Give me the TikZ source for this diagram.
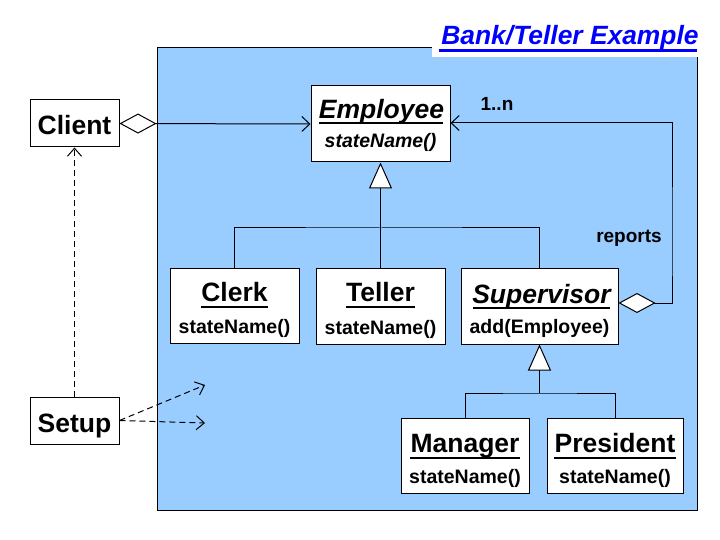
\documentclass[tikz,border=0pt]{standalone}
\usepackage{fontspec}
\setmainfont{Liberation Sans}
\usetikzlibrary{arrows.meta}
\definecolor{bluebg}{HTML}{99CCFF}
\definecolor{titleblue}{HTML}{0000FF}
\begin{document}
\begin{tikzpicture}[x=1pt,y=-1pt,
  cls/.style={draw=black,fill=white,line width=1pt,inner sep=0pt},
  nm/.style={inner sep=0pt,anchor=base,font=\fontsize{26.5}{30}\selectfont\bfseries},
  nmi/.style={nm,font=\fontsize{26.5}{30}\selectfont\bfseries\itshape},
  mt/.style={inner sep=0pt,anchor=base,font=\fontsize{19.5}{23}\selectfont\bfseries},
  mti/.style={mt,font=\fontsize{19.5}{23}\selectfont\bfseries\itshape},
  lbl/.style={inner sep=0pt,anchor=base,font=\fontsize{19}{23}\selectfont\bfseries},
  ul/.style={line width=2pt},
  conn/.style={line width=1pt},
  inh/.style={conn,-{Triangle[open,fill=white,length=26pt,width=23pt]}},
  agg/.style={conn,{Diamond[fill=white,length=37pt,width=20pt]}-{Straight Barb[length=8pt,width=15pt]}},
  dep/.style={conn,dash pattern=on 6pt off 4pt,-{Straight Barb[length=8pt,width=14pt]}}
]
\useasboundingbox (0,0) rectangle (720,540);
% background panel
\draw[line width=1pt,fill=bluebg] (157,48) rectangle (697,510);
% title
\fill[white] (432,8) rectangle (720,57);
\node[inner sep=0pt,anchor=base,text=titleblue,font=\fontsize{26.4}{30}\selectfont\bfseries\itshape] (title) at (570,45) {Bank/Teller Example};
\draw[titleblue,line width=3pt] (439,50.5) -- (697,50.5);

% class boxes
\node[cls,minimum width=89pt,minimum height=47pt] (client) at (74.5,123.5) {};
\node[nm] (clientN) at (74.5,135) {Client};
\node[cls,minimum width=89pt,minimum height=47pt] (setup) at (74.5,420.5) {};
\node[nm] (setupN) at (74.5,432) {Setup};

\node[cls,minimum width=139pt,minimum height=76pt] (employee) at (380.5,124) {};
\node[nmi] (employeeN) at (381.5,119) {Employee};
\draw[ul] (319,123.5) -- (443,123.5);
\node[mti] (employeeM) at (380.5,148) {stateName()};

\node[cls,minimum width=129pt,minimum height=75pt] (clerk) at (234.5,305.5) {};
\node[nm] (clerkN) at (234.5,301) {Clerk};
\draw[ul] ([yshift=-5.5pt]clerkN.base west) -- ([yshift=-5.5pt]clerkN.base east);
\node[mt] (clerkM) at (234.5,333) {stateName()};

\node[cls,minimum width=129pt,minimum height=76pt] (teller) at (380.5,306) {};
\node[nm] (tellerN) at (380.5,301) {Teller};
\draw[ul] ([yshift=-5.5pt]tellerN.base west) -- ([yshift=-5.5pt]tellerN.base east);
\node[mt] (tellerM) at (380.5,334) {stateName()};

\node[cls,minimum width=157pt,minimum height=76pt] (supervisor) at (539.5,306) {};
\node[nmi] (supervisorN) at (541.5,303) {Supervisor};
\draw[ul] (473,308) -- (610,308);
\node[mt] (supervisorM) at (539.5,333) {add(Employee)};

\node[cls,minimum width=128pt,minimum height=75pt] (manager) at (465,455.5) {};
\node[nm] (managerN) at (465,452) {Manager};
\draw[ul] ([yshift=-5.5pt]managerN.base west) -- ([yshift=-5.5pt]managerN.base east);
\node[mt] (managerM) at (465,483) {stateName()};

\node[cls,minimum width=136pt,minimum height=75pt] (president) at (615,455.5) {};
\node[nm] (presidentN) at (615,452) {President};
\draw[ul] ([yshift=-5.5pt]presidentN.base west) -- ([yshift=-5.5pt]presidentN.base east);
\node[mt] (presidentM) at (615,483) {stateName()};

% generalization
\coordinate (ej) at (380.5,228);
\draw[conn] (clerk.north) |- (ej) -| (supervisor.north);
\draw[inh] (teller.north) -- (employee.south);
\coordinate (sj) at (539.5,393);
\draw[conn] (manager.north) |- (sj) -| (president.north);
\draw[inh] (sj) -- (supervisor.south);

% aggregations
\draw[agg] (client.east) -- (employee.west);
\coordinate (rp) at (672,250);
\draw[agg] ([yshift=3pt]supervisor.east) -| (rp) |- ([yshift=1pt]employee.east);
\node[lbl] (mult) at (497,111) {1..n};
\node[lbl] (reports) at (629,243) {reports};

% dependencies
\coordinate (d1) at (205,385);
\coordinate (d2) at (205,423);
\draw[dep] (setup.north) -- (client.south);
\draw[dep] (setup.east) -- (d1);
\draw[dep] (setup.east) -- (d2);
\end{tikzpicture}
\end{document}
